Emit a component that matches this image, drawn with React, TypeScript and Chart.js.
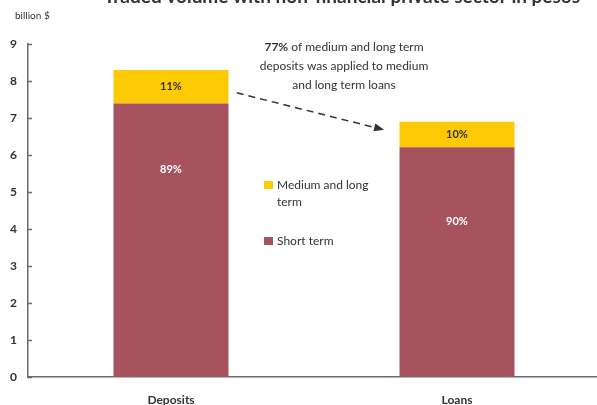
import React, { useEffect, useRef } from 'react';
import { Chart, registerables } from 'chart.js';

Chart.register(...registerables);

const titleText = 'Traded volume with non-financial private sector in pesos';
const unitLabel = 'billion $';
const categories = ['Deposits', 'Loans'];
const shortTerm = [7.39, 6.21];
const mediumLong = [0.91, 0.69];
const seriesNames = ['Short term', 'Medium and long term'];
const legendLines = [['Medium and long', 'term'], ['Short term']];
const yMin = 0;
const yMax = 9;
const yStep = 1;
const shortLabelAt = [5.62, 4.2];
const annotationBold = '77%';
const annotationLines = [' of medium and long term', 'deposits was applied to medium', 'and long term loans'];
const arrowFrom = [0.23, 7.68];
const arrowTo = [0.745, 6.68];

const RED = '#A6525F';
const YELLOW = '#FDCA05';
const TEXT = '#333333';
const AXIS = '#6b6b6b';
const FONT = 'Lato, "Open Sans", sans-serif';

const overlay = {
  id: 'overlay',
  afterDraw(chart: any) {
    const ctx = chart.ctx as CanvasRenderingContext2D;
    const xs = chart.scales.x;
    const ys = chart.scales.y;
    const area = chart.chartArea;
    ctx.save();

    // title (partially cut off at top)
    ctx.fillStyle = TEXT;
    ctx.font = `bold 19px ${FONT}`;
    ctx.textAlign = 'center';
    ctx.textBaseline = 'alphabetic';
    ctx.fillText(titleText, 342, 3);

    // unit label
    ctx.font = `10px ${FONT}`;
    ctx.textAlign = 'left';
    ctx.textBaseline = 'middle';
    ctx.fillText(unitLabel, 15, 16);

    // inner ticks on y axis
    ctx.strokeStyle = AXIS;
    ctx.lineWidth = 1.5;
    for (let v = yMin; v <= yMax; v += yStep) {
      const py = Math.round(ys.getPixelForValue(v)) + 0.5;
      ctx.beginPath();
      ctx.moveTo(area.left, py);
      ctx.lineTo(area.left + 4, py);
      ctx.stroke();
    }

    // bar labels
    const metaMed = chart.getDatasetMeta(1);
    ctx.textAlign = 'center';
    ctx.textBaseline = 'middle';
    ctx.font = `bold 11px ${FONT}`;
    categories.forEach((_, i) => {
      const total = shortTerm[i] + mediumLong[i];
      const pShort = Math.round((shortTerm[i] / total) * 100);
      const pMed = Math.round((mediumLong[i] / total) * 100);
      const el = metaMed.data[i];
      const cx = el.x;
      const cy = (el.y + el.base) / 2;
      ctx.fillStyle = TEXT;
      ctx.fillText(pMed + '%', cx, cy);
      ctx.fillStyle = '#ffffff';
      ctx.fillText(pShort + '%', cx, ys.getPixelForValue(shortLabelAt[i]));
    });

    // legend
    const legendColors = [YELLOW, RED];
    const legendTops = [181, 237];
    ctx.font = `12px ${FONT}`;
    ctx.textAlign = 'left';
    legendLines.forEach((lines, k) => {
      ctx.fillStyle = legendColors[k];
      ctx.fillRect(264, legendTops[k], 9, 8);
      ctx.fillStyle = TEXT;
      lines.forEach((ln, j) => {
        ctx.fillText(ln, 277, legendTops[k] + 4 + j * 17);
      });
    });

    // annotation text
    const cxA = 344;
    const lineYs = [47, 66, 85];
    ctx.textBaseline = 'middle';
    ctx.font = `bold 12px ${FONT}`;
    const wb = ctx.measureText(annotationBold).width;
    ctx.font = `12px ${FONT}`;
    const wr = ctx.measureText(annotationLines[0]).width;
    let sx = cxA - (wb + wr) / 2;
    ctx.textAlign = 'left';
    ctx.font = `bold 12px ${FONT}`;
    ctx.fillText(annotationBold, sx, lineYs[0]);
    ctx.font = `12px ${FONT}`;
    ctx.fillText(annotationLines[0], sx + wb, lineYs[0]);
    ctx.textAlign = 'center';
    for (let j = 1; j < annotationLines.length; j++) {
      ctx.fillText(annotationLines[j], cxA, lineYs[j]);
    }

    // arrow
    const p0 = xs.getPixelForValue(0);
    const p1 = xs.getPixelForValue(1);
    const ax = p0 + arrowFrom[0] * (p1 - p0);
    const ay = ys.getPixelForValue(arrowFrom[1]);
    const bx = p0 + arrowTo[0] * (p1 - p0);
    const by = ys.getPixelForValue(arrowTo[1]);
    const ang = Math.atan2(by - ay, bx - ax);
    const headLen = 10;
    const headW = 4;
    const ex = bx - Math.cos(ang) * headLen;
    const ey = by - Math.sin(ang) * headLen;
    ctx.strokeStyle = TEXT;
    ctx.lineWidth = 1.5;
    ctx.setLineDash([7, 5]);
    ctx.beginPath();
    ctx.moveTo(ax, ay);
    ctx.lineTo(ex, ey);
    ctx.stroke();
    ctx.setLineDash([]);
    ctx.fillStyle = TEXT;
    ctx.beginPath();
    ctx.moveTo(bx, by);
    ctx.lineTo(ex + Math.sin(ang) * headW, ey - Math.cos(ang) * headW);
    ctx.lineTo(ex - Math.sin(ang) * headW, ey + Math.cos(ang) * headW);
    ctx.closePath();
    ctx.fill();

    ctx.restore();
  },
};

export default function App() {
  const ref = useRef<HTMLCanvasElement | null>(null);
  useEffect(() => {
    if (!ref.current) return;
    const chart = new Chart(ref.current, {
      type: 'bar',
      data: {
        labels: categories,
        datasets: [
          {
            label: seriesNames[0],
            data: shortTerm,
            backgroundColor: RED,
            categoryPercentage: 1,
            barPercentage: 0.402,
          },
          {
            label: seriesNames[1],
            data: mediumLong,
            backgroundColor: YELLOW,
            categoryPercentage: 1,
            barPercentage: 0.402,
          },
        ],
      },
      options: {
        responsive: false,
        devicePixelRatio: 1,
        animation: false,
        layout: { padding: { top: 44, left: 0, right: 0, bottom: 0 } },
        plugins: {
          legend: { display: false },
          tooltip: { enabled: false },
          title: { display: false },
        },
        scales: {
          x: {
            type: 'category',
            stacked: true,
            offset: true,
            grid: { display: false, drawTicks: false },
            border: { display: true, color: AXIS, width: 1.5 },
            ticks: {
              padding: 16,
              color: TEXT,
              font: { family: FONT, size: 12, weight: 'bold' },
              maxRotation: 0,
            },
            afterFit: (s: any) => {
              s.height = 28;
            },
          },
          y: {
            stacked: true,
            min: yMin,
            max: yMax,
            grid: { display: false, drawTicks: false },
            border: { display: true, color: AXIS, width: 1.5 },
            ticks: {
              stepSize: yStep,
              padding: 11,
              color: TEXT,
              font: { family: FONT, size: 12, weight: 'bold' },
            },
            afterFit: (s: any) => {
              s.width = 28;
            },
          },
        },
      },
      plugins: [overlay],
    } as any);
    return () => chart.destroy();
  }, []);
  return (
    <div
      style={{
        position: 'fixed',
        left: 0,
        top: 0,
        width: 597,
        height: 405,
        overflow: 'hidden',
        background: '#ffffff',
      }}
    >
      <canvas ref={ref} width={600} height={405} style={{ display: 'block', width: 600, height: 405 }} />
    </div>
  );
}
